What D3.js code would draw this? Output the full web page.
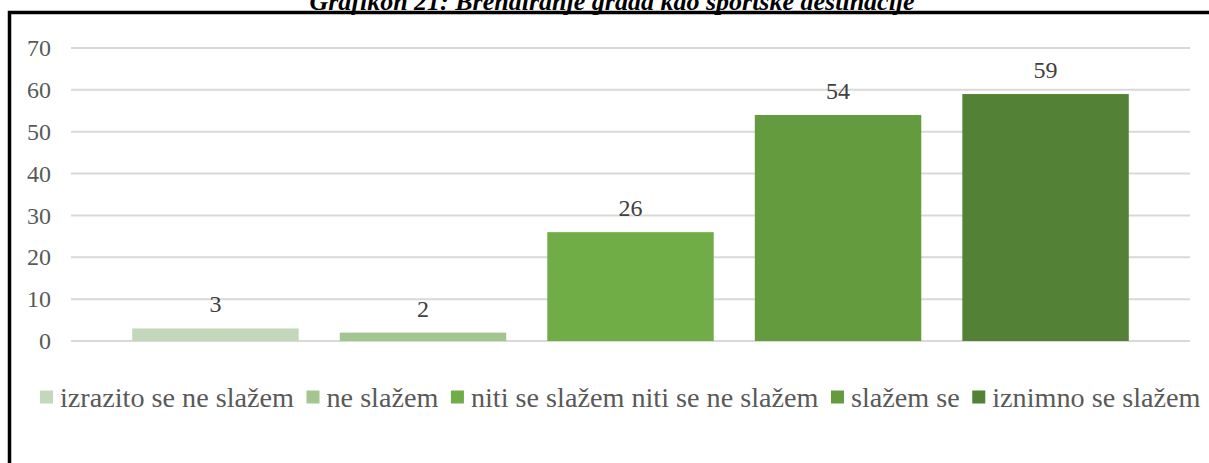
<!DOCTYPE html>
<html>
<head>
<meta charset="utf-8">
<script src="https://cdn.jsdelivr.net/npm/d3@7"></script>
<style>
    body { margin: 0; background: #fff; }
    svg { display: block; }
</style>
</head>
<body>
<svg id="chart" width="1209" height="463"></svg>
<script>
// data
const categories = ["izrazito se ne slažem", "ne slažem", "niti se slažem niti se ne slažem", "slažem se", "iznimno se slažem"];
const values = [3, 2, 26, 54, 59];
const colors = ["#c3d8ba", "#a3c590", "#70ad47", "#639b3e", "#538135"];
const yTicks = [0, 10, 20, 30, 40, 50, 60, 70];
const title = "Grafikon 21: Brendiranje grada kao sportske destinacije";

const serif = "'Liberation Serif', 'Times New Roman', serif";
const svg = d3.select("#chart");

// frame (only top and left edges show)
svg.append("path")
    .attr("d", "M9.5,470 L9.5,12.5 L1220,12.5")
    .attr("fill", "none")
    .attr("stroke", "#000")
    .attr("stroke-width", 3.5);

// title, cut by the top of the picture like in the source
svg.append("text")
    .attr("x", 612)
    .attr("y", 10)
    .attr("text-anchor", "middle")
    .style("font-family", serif)
    .attr("font-size", 26)
    .attr("font-weight", "bold")
    .attr("font-style", "italic")
    .attr("fill", "#000")
    .text(title);

const x = d3.scaleBand()
    .domain(categories)
    .range([71, 1190])
    .paddingInner(0.198)
    .paddingOuter(0.295);

const y = d3.scaleLinear()
    .domain([0, 70])
    .range([341, 48]);

// gridlines
svg.append("g")
    .selectAll("line")
    .data(yTicks)
    .enter()
    .append("line")
    .attr("x1", 71)
    .attr("x2", 1190)
    .attr("y1", d => y(d))
    .attr("y2", d => y(d))
    .attr("stroke", "#d9d9d9")
    .attr("stroke-width", 2);

// y axis labels
const yAxis = svg.append("g")
    .attr("transform", "translate(51,0)")
    .call(d3.axisLeft(y).tickValues(yTicks).tickSize(0).tickPadding(0));
yAxis.select(".domain").remove();
yAxis.selectAll("text")
    .style("font-family", serif)
    .attr("font-size", 24)
    .attr("fill", "#595959");

// bars
svg.append("g")
    .selectAll("rect")
    .data(values)
    .enter()
    .append("rect")
    .attr("x", (d, i) => x(categories[i]))
    .attr("y", d => y(d))
    .attr("width", x.bandwidth())
    .attr("height", d => y(0) - y(d))
    .attr("fill", (d, i) => colors[i]);

// value labels
svg.append("g")
    .selectAll("text")
    .data(values)
    .enter()
    .append("text")
    .attr("x", (d, i) => x(categories[i]) + x.bandwidth() / 2)
    .attr("y", d => y(d) - 16)
    .attr("text-anchor", "middle")
    .style("font-family", serif)
    .attr("font-size", 24)
    .attr("fill", "#404040")
    .text(d => d);

// legend
const legend = svg.append("g").attr("transform", "translate(0,397)");
let lx = 40;
categories.forEach((c, i) => {
    const item = legend.append("g").attr("transform", `translate(${lx},0)`);
    item.append("rect")
        .attr("x", 0)
        .attr("y", -6.5)
        .attr("width", 13)
        .attr("height", 13)
        .attr("fill", colors[i]);
    const t = item.append("text")
        .attr("x", 20)
        .attr("y", 0)
        .attr("dy", "0.35em")
        .style("font-family", serif)
        .attr("font-size", 28.2)
        .attr("fill", "#595959")
        .text(c);
    lx += 20 + t.node().getComputedTextLength() + 12.5;
});
</script>
</body>
</html>
